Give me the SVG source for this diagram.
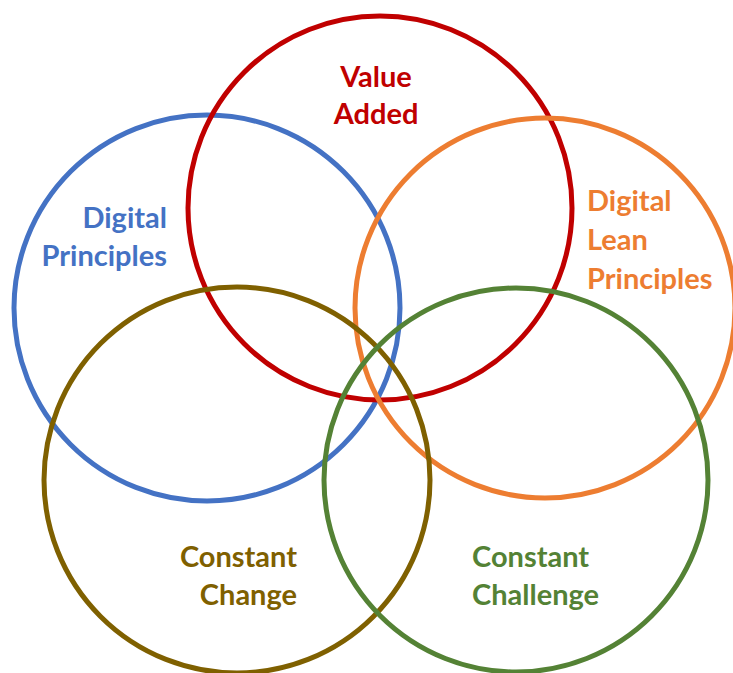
<svg xmlns="http://www.w3.org/2000/svg" width="733" height="673" viewBox="0 0 733 673">
  <style>
    .ring { fill: none; stroke-width: 5; }
    .lbl { font-family: Lato, "Open Sans", "Liberation Sans", sans-serif; font-weight: bold; font-size: 29px; }
  </style>
  <rect width="733" height="673" fill="#ffffff"/>
  <g id="digital-principles">
    <circle class="ring" cx="207" cy="308" r="193" stroke="#4472C4"/>
    <text class="lbl" fill="#4472C4" text-anchor="end"><tspan x="167" y="228">Digital</tspan><tspan x="167" y="266">Principles</tspan></text>
  </g>
  <g id="value-added">
    <circle class="ring" cx="380" cy="208" r="192" stroke="#C00000"/>
    <text class="lbl" fill="#C00000" text-anchor="middle"><tspan x="376" y="87">Value</tspan><tspan x="376" y="124">Added</tspan></text>
  </g>
  <g id="digital-lean-principles">
    <circle class="ring" cx="545" cy="308" r="190" stroke="#ED7D31"/>
    <text class="lbl" fill="#ED7D31"><tspan x="587" y="211">Digital</tspan><tspan x="587" y="250">Lean</tspan><tspan x="587" y="289">Principles</tspan></text>
  </g>
  <g id="constant-change">
    <circle class="ring" cx="237" cy="480" r="193" stroke="#7F6000"/>
    <text class="lbl" fill="#7F6000" text-anchor="end"><tspan x="297" y="567">Constant</tspan><tspan x="297" y="605">Change</tspan></text>
  </g>
  <g id="constant-challenge">
    <circle class="ring" cx="516" cy="480" r="192" stroke="#548235"/>
    <text class="lbl" fill="#548235"><tspan x="472" y="567">Constant</tspan><tspan x="472" y="605">Challenge</tspan></text>
  </g>
  <g id="connectors"/>
</svg>
